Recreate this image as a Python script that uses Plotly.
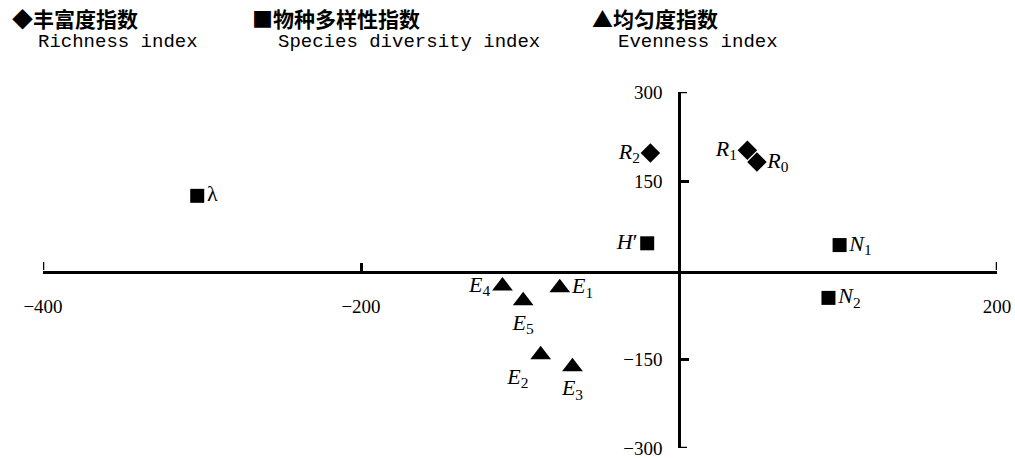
import plotly.graph_objects as go

# Richness index points
rich_names = ["<i>R</i><sub>0</sub>", "<i>R</i><sub>1</sub>", "<i>R</i><sub>2</sub>"]
rich_x = [49, 43, -18]
rich_y = [182, 202, 197]
rich_pos = ["middle right", "middle left", "middle left"]

# Species diversity index points
div_names = ["λ", "<i>H</i>′", "<i>N</i><sub>1</sub>", "<i>N</i><sub>2</sub>"]
div_x = [-303, -20, 101, 94]
div_y = [125, 45, 42, -47]
div_pos = ["middle right", "middle left", "middle right", "middle right"]

# Evenness index points
even_names = ["<i>E</i><sub>1</sub>", "<i>E</i><sub>2</sub>", "<i>E</i><sub>3</sub>",
              "<i>E</i><sub>4</sub>", "<i>E</i><sub>5</sub>"]
even_x = [-75, -87, -67, -111, -98]
even_y = [-30, -143, -163, -27, -52]
even_pos = ["middle right", "bottom left", "bottom center", "middle left", "bottom center"]

x_ticks = [-400, -200, 200]
y_ticks = [300, 150, -150, -300]

legend_cn = ["◆丰富度指数", "■物种多样性指数", "▲均匀度指数"]
legend_en = ["Richness index", "Species diversity index", "Evenness index"]

SERIF = "Liberation Serif"
label_font = dict(family=SERIF, size=22, color="black")

fig = go.Figure()
for names, xs, ys, pos, sym, size in [
    (rich_names, rich_x, rich_y, rich_pos, "diamond", 15),
    (div_names, div_x, div_y, div_pos, "square", 14),
    (even_names, even_x, even_y, even_pos, "triangle-up", 18),
]:
    fig.add_trace(go.Scatter(
        x=xs, y=ys, mode="markers+text", text=names, textposition=pos,
        marker=dict(symbol=sym, size=size, color="black"),
        textfont=label_font, cliponaxis=False, hoverinfo="skip",
    ))

# legend block along the top
leg_x = [10, 250, 590]
for lx, cn, en in zip(leg_x, legend_cn, legend_en):
    fig.add_annotation(x=lx / 1015, y=1 - 18 / 458, xref="paper", yref="paper",
                       xanchor="left", yanchor="middle", showarrow=False, text=cn,
                       font=dict(family="Noto Sans CJK SC", size=21, color="black", weight="bold"))
    fig.add_annotation(x=(lx + 26) / 1015, y=1 - 42 / 458, xref="paper", yref="paper",
                       xanchor="left", yanchor="middle", showarrow=False, text=en,
                       font=dict(family="Liberation Mono", size=19, color="black"))

# end ticks at the axis extremes (plotly skips ticks at the exact domain edges)
for xv in (x_ticks[0], x_ticks[-1]):
    fig.add_shape(type="line", xref="x", yref="y", x0=xv, x1=xv,
                  ysizemode="pixel", yanchor=0, y0=0, y1=8,
                  line=dict(color="black", width=2.5))
for yv in (y_ticks[0], y_ticks[-1]):
    fig.add_shape(type="line", xref="x", yref="y", y0=yv, y1=yv,
                  xsizemode="pixel", xanchor=0, x0=0, x1=8,
                  line=dict(color="black", width=2.5))

axis_common = dict(showline=True, linecolor="black", linewidth=2.5,
                   ticks="inside", ticklen=8, tickwidth=2.5, tickcolor="black",
                   showgrid=False, zeroline=False, automargin=False,
                   ticklabeloverflow="allow",
                   tickfont=dict(family=SERIF, size=19, color="black"))

fig.update_layout(
    width=1015, height=458, margin=dict(l=0, r=0, t=0, b=0),
    paper_bgcolor="white", plot_bgcolor="white", showlegend=False,
    xaxis=dict(range=[-400, 200], domain=[43 / 1015, 997 / 1015], anchor="free",
               position=0.4061, tickvals=x_ticks,
               ticktext=[str(v).replace("-", "−") for v in x_ticks],
               ticklabelstandoff=16, **axis_common),
    yaxis=dict(range=[-300, 300], domain=[10 / 458, 366 / 458], anchor="free",
               position=679 / 1015, tickvals=y_ticks,
               ticktext=[str(v).replace("-", "−") for v in y_ticks],
               ticklabelstandoff=12, **axis_common),
)

fig.write_html("out.html")
